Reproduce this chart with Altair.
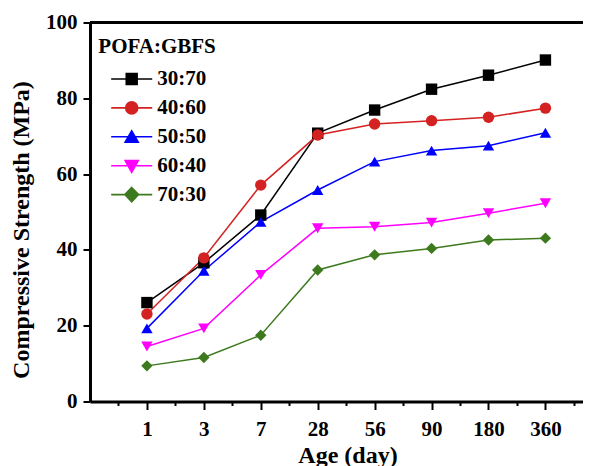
import altair as alt
import pandas as pd

# ---- data ----
ages = ["1", "3", "7", "28", "56", "90", "180", "360"]
series_names = ["30:70", "40:60", "50:50", "60:40", "70:30"]
s_30_70 = [26.1, 36.6, 49.2, 70.8, 76.9, 82.4, 86.1, 90.1]
s_40_60 = [23.1, 37.9, 57.1, 70.3, 73.2, 74.1, 75.0, 77.4]
s_50_50 = [19.3, 34.5, 47.4, 55.8, 63.3, 66.2, 67.5, 70.9]
s_60_40 = [14.5, 19.3, 33.4, 45.7, 46.1, 47.2, 49.7, 52.3]
s_70_30 = [9.4, 11.6, 17.5, 34.7, 38.7, 40.4, 42.6, 43.1]
all_series = [s_30_70, s_40_60, s_50_50, s_60_40, s_70_30]

colors = ["#000000", "#d42222", "#0000ff", "#ff00ff", "#3d7a1e"]
shapes = ["square", "circle", "triangle-up", "triangle-down", "diamond"]
# legend symbols: a short line with the marker on it
legend_paths = [
    "M-3.6,0H3.6M-0.95,-0.95H0.95V0.95H-0.95Z",
    "M-3.6,0H3.6M-1.05,0A1.05,1.05,0,1,0,1.05,0A1.05,1.05,0,1,0,-1.05,0Z",
    "M-3.6,0H3.6M0,-1.05L1.15,0.95H-1.15Z",
    "M-3.6,0H3.6M0,1.15L1.15,-0.9H-1.15Z",
    "M-3.6,0H3.6M0,-1.25L1.2,0L0,1.25L-1.2,0Z",
]

rows = []
for name, vals in zip(series_names, all_series):
    for i, (age, v) in enumerate(zip(ages, vals)):
        rows.append({"series": name, "pos": i + 1, "age": age, "value": v})
df = pd.DataFrame(rows)

legend_df = pd.DataFrame({"series": series_names, "pos": [None] * 5, "value": [None] * 5})

FONT = "Liberation Serif"
XMAX = 8.66

age_array = "[" + ",".join("'" + a + "'" for a in ages) + "]"

x_enc = alt.X(
    "pos:Q",
    scale=alt.Scale(domain=[0, XMAX], nice=False, zero=False),
    axis=alt.Axis(
        values=[i * 0.5 for i in range(1, 18)],
        labelExpr=f"datum.value % 1 === 0 ? {age_array}[datum.value - 1] : ''",
        title="Age (day)",
        titleX=257.5,
        titleY=60.5,
        titleAlign="center",
        titleBaseline="alphabetic",
        titleFont=FONT,
        titleFontSize=24,
        titleFontWeight="bold",
        titleColor="black",
        labelFont=FONT,
        labelFontSize=21,
        labelFontWeight="bold",
        labelColor="black",
        labelAngle=0,
        labelPadding=9,
        labelOverlap=False,
        labelFlush=False,
        tickSize={"condition": {"test": "datum.value % 1 === 0", "value": 8}, "value": 4},
        tickWidth=2,
        tickColor="black",
        domainWidth=3,
        domainColor="black",
        grid=False,
        orient="bottom",
    ),
)

y_enc = alt.Y(
    "value:Q",
    scale=alt.Scale(domain=[0, 100], nice=False),
    axis=alt.Axis(
        values=list(range(0, 101, 10)),
        labelExpr="datum.value % 20 === 0 ? datum.label : ''",
        title="Compressive Strength (MPa)",
        titleX=-61.5,
        titleY=207,
        titleAngle=270,
        titleAlign="center",
        titleBaseline="alphabetic",
        titleFont=FONT,
        titleFontSize=24,
        titleFontWeight="bold",
        titleColor="black",
        labelFont=FONT,
        labelFontSize=21,
        labelFontWeight="bold",
        labelColor="black",
        labelPadding=6,
        labelOverlap=False,
        labelFlush=False,
        tickSize={"condition": {"test": "datum.value % 20 === 0", "value": 7}, "value": 4},
        tickWidth=2,
        tickColor="black",
        domainWidth=3,
        domainColor="black",
        grid=False,
        orient="left",
    ),
)

color_scale = alt.Scale(domain=series_names, range=colors)

lines = alt.Chart(df).mark_line(strokeWidth=1.5).encode(
    x=x_enc,
    y=y_enc,
    color=alt.Color("series:N", scale=color_scale, legend=None),
    detail="series:N",
)

points = alt.Chart(df).mark_point(filled=True, size=130, opacity=1).encode(
    x=x_enc,
    y=y_enc,
    color=alt.Color("series:N", scale=color_scale, legend=None),
    shape=alt.Shape("series:N", scale=alt.Scale(domain=series_names, range=shapes), legend=None),
)

legend_kw = dict(
    title="POFA:GBFS",
    orient="none",
    legendX=8.3,
    legendY=13.0,
    direction="vertical",
    padding=0,
    titleFont=FONT,
    titleFontSize=21,
    titleFontWeight="bold",
    titleColor="black",
    titleAnchor="start",
    titlePadding=12,
    labelFont=FONT,
    labelFontSize=21,
    labelFontWeight="bold",
    labelColor="black",
    symbolSize=130,
    symbolStrokeWidth=1.6,
    symbolOffset=22.9,
    labelOffset=15,
    rowPadding=6.9,
)

legend_layer = alt.Chart(legend_df).mark_point(filled=True, opacity=1, strokeWidth=1.6).encode(
    x=x_enc,
    y=y_enc,
    fill=alt.Fill("series:N", scale=alt.Scale(domain=series_names, range=colors), legend=alt.Legend(**legend_kw)),
    stroke=alt.Stroke("series:N", scale=alt.Scale(domain=series_names, range=colors), legend=alt.Legend(**legend_kw)),
    shape=alt.Shape("series:N", scale=alt.Scale(domain=series_names, range=legend_paths), legend=alt.Legend(**legend_kw)),
)

top_border = alt.Chart(pd.DataFrame({"value": [100]})).mark_rule(strokeWidth=3, color="black").encode(
    y=alt.Y("value:Q", scale=alt.Scale(domain=[0, 100], nice=False)),
)

chart = (
    alt.layer(lines, points, legend_layer, top_border)
    .resolve_scale(shape="independent", fill="independent", stroke="independent")
    .properties(
        width=493,
        height=379,
        autosize=alt.AutoSizeParams(type="none"),
        padding={"left": 82, "top": 14.5, "right": 0, "bottom": 64.5},
        background="white",
    )
    .configure_view(stroke=None)
)

chart.save("out.html", embed_options={"renderer": "svg", "actions": False})
